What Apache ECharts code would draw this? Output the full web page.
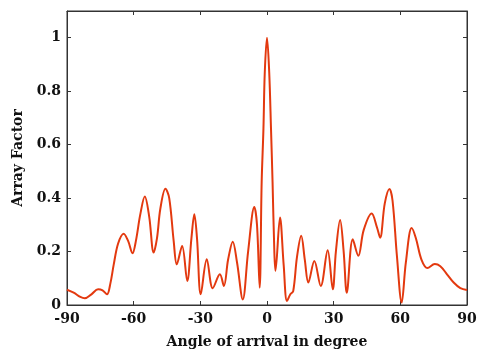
<!DOCTYPE html>
<html>
<head>
<meta charset="utf-8">
<script src="https://cdn.jsdelivr.net/npm/echarts@6/dist/echarts.min.js"></script>
<style>
  html, body { margin: 0; padding: 0; background: #fff; }
  #chart { width: 477px; height: 350px; }
</style>
</head>
<body>
<div id="chart"></div>
<script>
// angle of arrival (degree) and array factor
const angles = [
  -90, -87, -84, -82, -79, -76, -74, -72, -70.5, -69, -67, -64.5, -62.5, -60.5,
  -59, -57, -55, -53, -51, -49.5, -48, -45.7, -44, -42, -40.6, -38.2, -35.9,
  -34, -32.7, -31.5, -29.8, -27.1, -24.4, -21.2, -19.4, -17.5, -15.4, -13.5,
  -10.9, -8.5, -5.7, -4.5, -3.3, -2.4, -1.6, -1.0, 0, 1.0, 1.8, 2.5, 3.3, 3.8,
  5.85, 7.5, 9.0, 10.5, 11.8, 13.5, 15.4, 17, 18.6, 21.3, 24.2, 27.3, 29.6,
  31, 32.9, 34.5, 35.9, 38.6, 41.1, 43.5, 47.1, 49.5, 50.9, 53, 55.1, 56.5,
  58.5, 60.6, 62.5, 65.1, 67, 69.5, 72.2, 75.5, 78, 81, 84, 87, 90
];
const arrayFactor = [
  0.057, 0.046, 0.03, 0.025, 0.04, 0.059, 0.055, 0.04, 0.08, 0.15, 0.23, 0.267, 0.24, 0.194,
  0.24, 0.34, 0.406, 0.33, 0.196, 0.25, 0.36, 0.435, 0.40, 0.24, 0.152, 0.221, 0.09,
  0.25, 0.34, 0.25, 0.04, 0.171, 0.063, 0.115, 0.071, 0.17, 0.237, 0.16,
  0.021, 0.2, 0.367, 0.3, 0.065, 0.46, 0.66, 0.87, 1.0, 0.87, 0.66, 0.46, 0.2, 0.128,
  0.327, 0.15, 0.015, 0.04, 0.052, 0.18, 0.259, 0.17, 0.084, 0.165, 0.071, 0.205, 0.059,
  0.2, 0.318, 0.2, 0.046, 0.246, 0.184, 0.28, 0.342, 0.29, 0.252, 0.38, 0.434, 0.39,
  0.18, 0.009, 0.16, 0.288, 0.25, 0.17, 0.138, 0.153, 0.145, 0.115, 0.084, 0.063, 0.056
];

const chart = echarts.init(document.getElementById('chart'), null, { renderer: 'canvas' });

const font = 'DejaVu Serif';
const axisColor = '#333';

const option = {
  animation: false,
  grid: {
    left: 67, right: 10, top: 11, bottom: 45,
    outerBoundsMode: 'none',
    show: true, borderColor: axisColor, borderWidth: 1
  },
  xAxis: [
    {
      type: 'value', min: -90, max: 90, interval: 30,
      name: 'Angle of arrival in degree',
      nameLocation: 'middle', nameGap: 30,
      nameTextStyle: { fontFamily: font, fontWeight: 'bold', fontSize: 14, color: '#111' },
      axisLine: { onZero: false, lineStyle: { color: axisColor } },
      axisTick: { inside: true, length: 4, lineStyle: { color: axisColor } },
      axisLabel: { fontFamily: font, fontWeight: 'bold', fontSize: 14, color: '#111', margin: 7 },
      splitLine: { show: false }
    },
    {
      type: 'value', position: 'top', min: -90, max: 90, interval: 30,
      axisLine: { onZero: false, lineStyle: { color: axisColor } },
      axisTick: { inside: true, length: 4, lineStyle: { color: axisColor } },
      axisLabel: { show: false },
      splitLine: { show: false }
    }
  ],
  yAxis: [
    {
      type: 'value', min: 0, max: 1.1, interval: 0.2,
      name: 'Array Factor',
      nameLocation: 'middle', nameGap: 41,
      nameTextStyle: { fontFamily: font, fontWeight: 'bold', fontSize: 14, color: '#111' },
      axisLine: { show: true, onZero: false, lineStyle: { color: axisColor } },
      axisTick: { show: true, inside: true, length: 4, lineStyle: { color: axisColor } },
      axisLabel: { fontFamily: font, fontWeight: 'bold', fontSize: 14, color: '#111', margin: 6, showMaxLabel: false },
      splitLine: { show: false }
    },
    {
      type: 'value', position: 'right', min: 0, max: 1.1, interval: 0.2,
      axisLine: { show: true, onZero: false, lineStyle: { color: axisColor } },
      axisTick: { show: true, inside: true, length: 4, lineStyle: { color: axisColor } },
      axisLabel: { show: false },
      splitLine: { show: false }
    }
  ],
  series: [
    {
      type: 'line',
      data: angles.map((a, i) => [a, arrayFactor[i]]),
      smooth: 0.35,
      symbol: 'none',
      clip: true,
      lineStyle: { color: '#e3390f', width: 2 }
    }
  ]
};

chart.setOption(option);
</script>
</body>
</html>
